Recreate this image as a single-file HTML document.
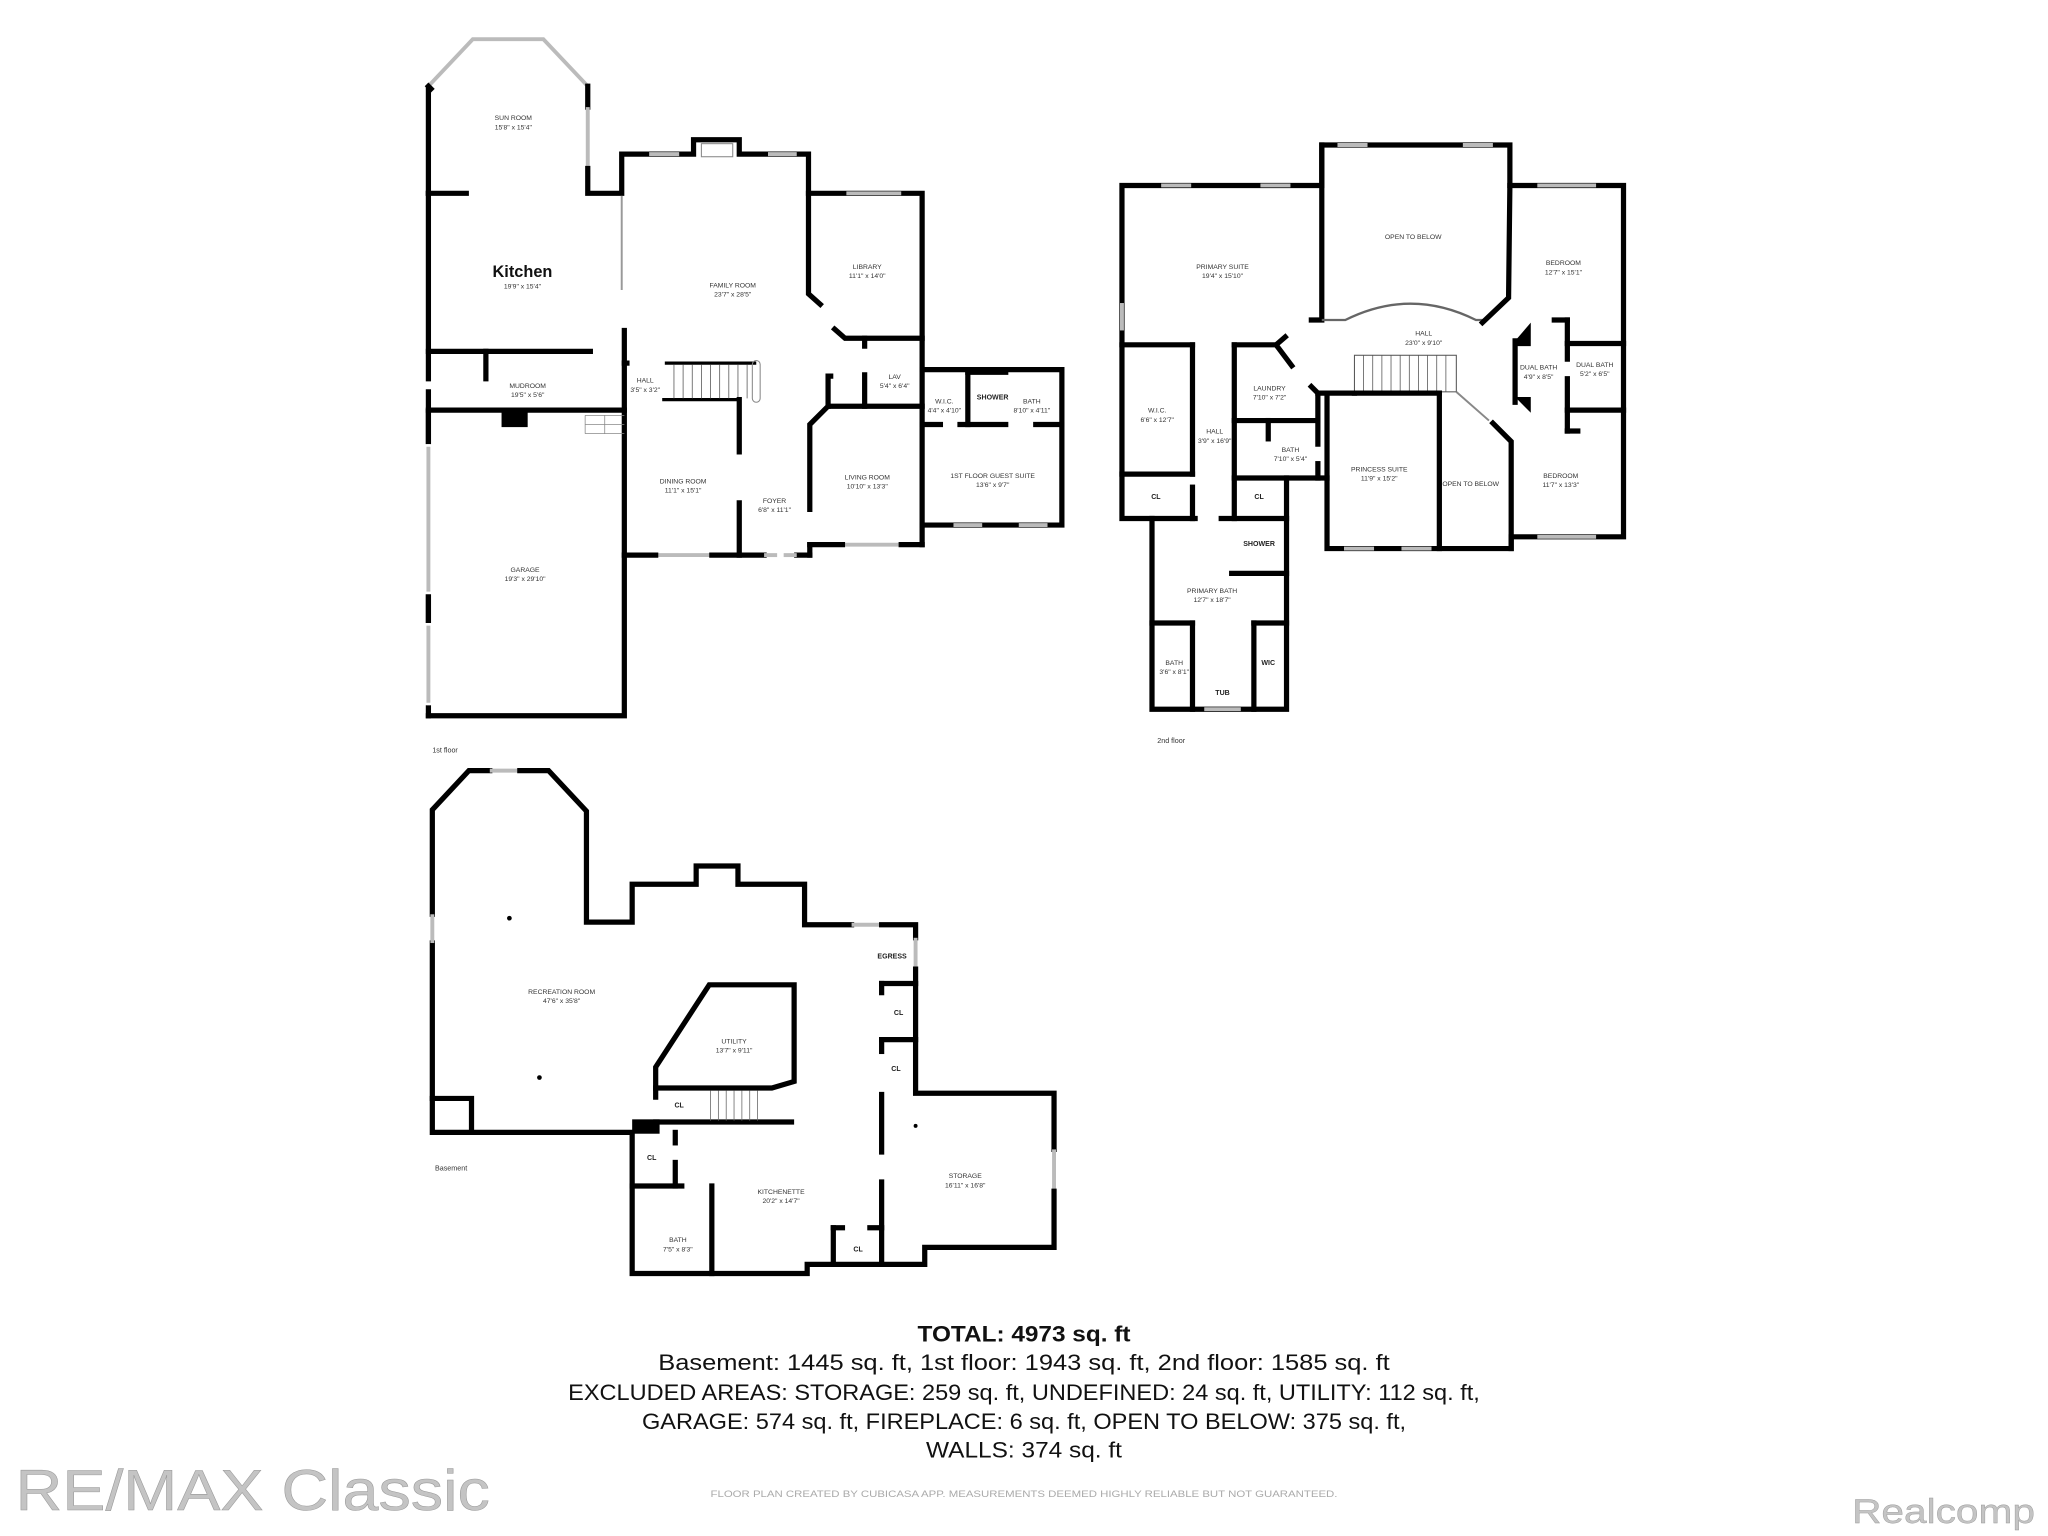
<!DOCTYPE html>
<html><head><meta charset="utf-8"><style>
html,body{margin:0;padding:0;background:#fff;}
svg{display:block;}
.w{fill:none;stroke:#000;stroke-width:4;stroke-linecap:square;stroke-linejoin:miter;}
.t{stroke:#000;stroke-width:2.5;fill:none;}
.win{stroke:#bbb;stroke-width:3;fill:none;}
.lb{font-family:"Liberation Sans",sans-serif;font-size:5.2px;fill:#333;text-anchor:middle;}
.lbb{font-family:"Liberation Sans",sans-serif;font-size:5.4px;fill:#222;text-anchor:middle;font-weight:bold;}
.fl{font-family:"Liberation Sans",sans-serif;font-size:5.5px;fill:#333;}
.tot{font-family:"Liberation Sans",sans-serif;fill:#111;text-anchor:middle;}
</style></head><body>
<svg width="2048" height="1536" viewBox="0 0 1568 1176" preserveAspectRatio="none" xmlns="http://www.w3.org/2000/svg">
<!-- ===== 1st floor ===== -->
<g>
<!-- sun room -->
<polyline class="win" points="328,66 362,30 416,30 450,66"/>
<polyline class="w" points="328,66 330,68"/>
<line class="w" x1="328" y1="68" x2="328" y2="148"/>
<line class="w" x1="450" y1="66" x2="450" y2="82"/>
<line class="win" x1="450" y1="82" x2="450" y2="129"/>
<polyline class="w" points="450,129 450,148 476,148 476,118 531,118 531,107 566,107 566,118 619,118 619,148 706,148 706,283 813,283 813,402 706,402 706,417"/>
<rect x="537" y="110" width="24" height="10" fill="#fff" stroke="#888" stroke-width="0.8"/>
<line class="win" x1="497" y1="118" x2="520" y2="118"/>
<line class="win" x1="588" y1="118" x2="610" y2="118"/>
<line class="win" x1="648" y1="148" x2="690" y2="148"/>
<line class="win" x1="730" y1="402" x2="752" y2="402"/>
<line class="win" x1="780" y1="402" x2="802" y2="402"/>
<line class="win" x1="645" y1="417" x2="690" y2="417"/>
<line class="win" x1="502" y1="425" x2="545" y2="425"/>
<line class="win" x1="371" y1="548" x2="394" y2="548"/>
<line class="win" x1="430" y1="548" x2="452" y2="548"/>
<!-- kitchen / mudroom / garage -->
<line class="w" x1="328" y1="148" x2="357" y2="148"/>
<line class="w" x1="328" y1="148" x2="328" y2="290"/>
<line class="w" x1="328" y1="300" x2="328" y2="548"/>
<line class="win" x1="328" y1="340" x2="328" y2="455"/>
<line class="win" x1="328" y1="475" x2="328" y2="540"/>
<line class="w" x1="328" y1="315" x2="328" y2="338"/>
<line class="w" x1="328" y1="455" x2="328" y2="475"/>
<line x1="328" y1="340" x2="328" y2="455" stroke="#fff" stroke-width="5"/>
<line class="win" x1="328" y1="342" x2="328" y2="453"/>
<line x1="328" y1="477" x2="328" y2="540" stroke="#fff" stroke-width="5"/>
<line class="win" x1="328" y1="479" x2="328" y2="538"/>
<polyline class="w" points="328,548 478,548 478,253"/>
<line class="w" x1="328" y1="269" x2="452" y2="269"/>
<line class="w" x1="372" y1="269" x2="372" y2="290"/>
<line class="w" x1="328" y1="314" x2="478" y2="314"/>
<rect x="384" y="315" width="20" height="12" fill="#000"/>
<line x1="476" y1="150" x2="476" y2="222" stroke="#999" stroke-width="1.5"/>
<!-- stairs/hall -->
<line class="w" x1="478" y1="278" x2="480" y2="278"/>
<line class="t" x1="509" y1="278" x2="579" y2="278"/>
<line class="t" x1="507" y1="306" x2="566" y2="306"/>
<g stroke="#555" stroke-width="0.6">
<line x1="516" y1="279" x2="516" y2="305"/><line x1="523" y1="279" x2="523" y2="305"/><line x1="530" y1="279" x2="530" y2="305"/><line x1="537" y1="279" x2="537" y2="305"/><line x1="544" y1="279" x2="544" y2="305"/><line x1="551" y1="279" x2="551" y2="305"/><line x1="558" y1="279" x2="558" y2="305"/><line x1="565" y1="279" x2="565" y2="305"/><line x1="572" y1="279" x2="572" y2="305"/>
</g>
<rect x="576" y="276" width="6" height="32" rx="3" fill="none" stroke="#888" stroke-width="0.8"/>
<g stroke="#888" stroke-width="0.6"><line x1="448" y1="318" x2="478" y2="318"/><line x1="448" y1="325" x2="478" y2="325"/><line x1="448" y1="332" x2="478" y2="332"/><line x1="448" y1="318" x2="448" y2="332"/><line x1="463" y1="318" x2="463" y2="332"/></g>
<!-- dining/foyer -->
<polyline class="w" points="566,306 566,346"/>
<line class="w" x1="566" y1="385" x2="566" y2="425"/>
<line class="w" x1="478" y1="425" x2="502" y2="425"/>
<line class="w" x1="545" y1="425" x2="585" y2="425"/>
<line class="w" x1="610" y1="425" x2="620" y2="425"/>
<line class="win" x1="585" y1="425" x2="595" y2="425"/>
<line class="win" x1="600" y1="425" x2="610" y2="425"/>
<line class="w" x1="620" y1="425" x2="620" y2="417"/>
<line class="w" x1="620" y1="417" x2="645" y2="417"/>
<line class="w" x1="690" y1="417" x2="706" y2="417"/>
<!-- living / lav / library -->
<polyline class="w" points="620,390 620,325 634,311 706,311"/>
<polyline class="w" points="619,148 619,225 628,233"/>
<polyline class="w" points="639,252 647,259 706,259"/>
<line class="w" x1="662" y1="259" x2="662" y2="265"/>
<line class="w" x1="662" y1="287" x2="662" y2="311"/>
<polyline class="w" points="634,311 634,288 636,288"/>
<line class="w" x1="706" y1="283" x2="706" y2="402"/>
<line class="w" x1="741" y1="283" x2="741" y2="325"/>
<line class="w" x1="706" y1="325" x2="720" y2="325"/>
<line class="w" x1="735" y1="325" x2="770" y2="325"/>
<line class="w" x1="793" y1="325" x2="813" y2="325"/>
<line class="w" x1="741" y1="285" x2="770" y2="285"/>
<text class="lbb" x="400" y="212" style="font-size:12.5px;fill:#111">Kitchen</text>
<text class="lb" x="400" y="221">19'9" x 15'4"</text>
<text class="lb" x="393" y="92">SUN ROOM</text><text class="lb" x="393" y="99">15'8" x 15'4"</text>
<text class="lb" x="561" y="220">FAMILY ROOM</text><text class="lb" x="561" y="227">23'7" x 28'5"</text>
<text class="lb" x="664" y="206">LIBRARY</text><text class="lb" x="664" y="213">11'1" x 14'0"</text>
<text class="lb" x="404" y="297">MUDROOM</text><text class="lb" x="404" y="304">19'5" x 5'6"</text>
<text class="lb" x="494" y="293">HALL</text><text class="lb" x="494" y="300">3'5" x 3'2"</text>
<text class="lb" x="685" y="290">LAV</text><text class="lb" x="685" y="297">5'4" x 6'4"</text>
<text class="lb" x="723" y="309">W.I.C.</text><text class="lb" x="723" y="316">4'4" x 4'10"</text>
<text class="lbb" x="760" y="306">SHOWER</text>
<text class="lb" x="790" y="309">BATH</text><text class="lb" x="790" y="316">8'10" x 4'11"</text>
<text class="lb" x="523" y="370">DINING ROOM</text><text class="lb" x="523" y="377">11'1" x 15'1"</text>
<text class="lb" x="593" y="385">FOYER</text><text class="lb" x="593" y="392">6'8" x 11'1"</text>
<text class="lb" x="664" y="367">LIVING ROOM</text><text class="lb" x="664" y="374">10'10" x 13'3"</text>
<text class="lb" x="760" y="366">1ST FLOOR GUEST SUITE</text><text class="lb" x="760" y="373">13'6" x 9'7"</text>
<text class="lb" x="402" y="438">GARAGE</text><text class="lb" x="402" y="445">19'3" x 29'10"</text>
<text class="fl" x="331" y="576">1st floor</text>
</g>

<!-- ===== 2nd floor ===== -->
<g>
<polyline class="w" points="859,397 859,142 1012,142 1012,111 1156,111 1156,142 1243,142 1243,411 1157,411 1157,420 1016,420 1016,366 985,366 985,543 882,543 882,397 859,397"/>
<line class="win" x1="889" y1="142" x2="912" y2="142"/>
<line class="win" x1="965" y1="142" x2="988" y2="142"/>
<line class="win" x1="1024" y1="111" x2="1047" y2="111"/>
<line class="win" x1="1120" y1="111" x2="1143" y2="111"/>
<line class="win" x1="1177" y1="142" x2="1222" y2="142"/>
<line class="win" x1="1177" y1="411" x2="1222" y2="411"/>
<line class="win" x1="1029" y1="420" x2="1052" y2="420"/>
<line class="win" x1="1073" y1="420" x2="1096" y2="420"/>
<line class="win" x1="922" y1="543" x2="950" y2="543"/>
<line class="win" x1="859" y1="232" x2="859" y2="253"/>
<!-- left internal -->
<line class="w" x1="859" y1="264" x2="913" y2="264"/>
<line class="w" x1="913" y1="264" x2="913" y2="363"/>
<line class="w" x1="859" y1="363" x2="913" y2="363"/>
<line class="w" x1="913" y1="373" x2="913" y2="397"/>
<line class="w" x1="882" y1="397" x2="915" y2="397"/>
<line class="w" x1="935" y1="397" x2="985" y2="397"/>
<line class="w" x1="945" y1="264" x2="945" y2="397"/>
<polyline class="w" points="945,264 977,264 989,280"/>
<polyline class="w" points="1004,296 1009,301 1009,340"/>
<line class="w" x1="1009" y1="355" x2="1009" y2="366"/>
<line class="w" x1="945" y1="322" x2="1009" y2="322"/>
<line class="w" x1="971" y1="322" x2="971" y2="336"/>
<line class="w" x1="945" y1="366" x2="985" y2="366"/>
<polyline class="w" points="1012,111 1012,245 1004,245"/>
<line class="w" x1="977" y1="264" x2="984" y2="258"/>
<line class="w" x1="1009" y1="301" x2="1037" y2="301"/>
<!-- hall rail arc -->
<path d="M1012,245 L1030,245 Q1080,220 1130,245 L1135,245" fill="none" stroke="#666" stroke-width="1.8"/>
<polyline class="w" points="1156,142 1155,228 1135,247"/>
<!-- stairs -->
<rect x="1037" y="272" width="78" height="28" fill="none" stroke="#555" stroke-width="0.8"/>
<g stroke="#555" stroke-width="0.6"><line x1="1044" y1="272" x2="1044" y2="300"/><line x1="1051" y1="272" x2="1051" y2="300"/><line x1="1058" y1="272" x2="1058" y2="300"/><line x1="1065" y1="272" x2="1065" y2="300"/><line x1="1072" y1="272" x2="1072" y2="300"/><line x1="1079" y1="272" x2="1079" y2="300"/><line x1="1086" y1="272" x2="1086" y2="300"/><line x1="1093" y1="272" x2="1093" y2="300"/><line x1="1100" y1="272" x2="1100" y2="300"/><line x1="1107" y1="272" x2="1107" y2="300"/></g>
<line class="w" x1="1037" y1="301" x2="1102" y2="301"/>
<line class="w" x1="1102" y1="301" x2="1102" y2="420"/>
<line x1="1115" y1="300" x2="1140" y2="322" stroke="#888" stroke-width="1.5"/>
<polyline class="w" points="1143,324 1157,338 1157,420"/>
<line class="w" x1="1016" y1="366" x2="1016" y2="301"/>
<!-- princess suite internal separation -->
<!-- dual baths -->
<line class="w" x1="1160" y1="261" x2="1160" y2="308"/>
<polygon points="1160,261 1172,247 1172,265 1160,265" fill="#000"/>
<polygon points="1160,304 1172,304 1172,316" fill="#000"/>
<line class="w" x1="1200" y1="245" x2="1200" y2="275"/>
<line class="w" x1="1200" y1="290" x2="1200" y2="330"/>
<line class="w" x1="1200" y1="263" x2="1243" y2="263"/>
<line class="w" x1="1200" y1="314" x2="1243" y2="314"/>
<line class="w" x1="1200" y1="330" x2="1208" y2="330"/>
<line class="w" x1="1190" y1="245" x2="1200" y2="245"/>
<!-- primary bath -->
<line class="w" x1="943" y1="439" x2="985" y2="439"/>
<line class="w" x1="882" y1="477" x2="913" y2="477"/>
<line class="w" x1="913" y1="477" x2="913" y2="543"/>
<line class="w" x1="960" y1="477" x2="985" y2="477"/>
<line class="w" x1="960" y1="477" x2="960" y2="543"/>
<text class="lb" x="1082" y="183">OPEN TO BELOW</text>
<text class="lb" x="936" y="206">PRIMARY SUITE</text><text class="lb" x="936" y="213">19'4" x 15'10"</text>
<text class="lb" x="1197" y="203">BEDROOM</text><text class="lb" x="1197" y="210">12'7" x 15'1"</text>
<text class="lb" x="1090" y="257">HALL</text><text class="lb" x="1090" y="264">23'0" x 9'10"</text>
<text class="lb" x="972" y="299">LAUNDRY</text><text class="lb" x="972" y="306">7'10" x 7'2"</text>
<text class="lb" x="1178" y="283">DUAL BATH</text><text class="lb" x="1178" y="290">4'9" x 8'5"</text>
<text class="lb" x="1221" y="281">DUAL BATH</text><text class="lb" x="1221" y="288">5'2" x 6'5"</text>
<text class="lb" x="886" y="316">W.I.C.</text><text class="lb" x="886" y="323">6'6" x 12'7"</text>
<text class="lb" x="930" y="332">HALL</text><text class="lb" x="930" y="339">3'9" x 16'9"</text>
<text class="lb" x="988" y="346">BATH</text><text class="lb" x="988" y="353">7'10" x 5'4"</text>
<text class="lb" x="1056" y="361">PRINCESS SUITE</text><text class="lb" x="1056" y="368">11'9" x 15'2"</text>
<text class="lb" x="1126" y="372">OPEN TO BELOW</text>
<text class="lb" x="1195" y="366">BEDROOM</text><text class="lb" x="1195" y="373">11'7" x 13'3"</text>
<text class="lbb" x="885" y="382">CL</text><text class="lbb" x="964" y="382">CL</text>
<text class="lbb" x="964" y="418">SHOWER</text>
<text class="lb" x="928" y="454">PRIMARY BATH</text><text class="lb" x="928" y="461">12'7" x 18'7"</text>
<text class="lb" x="899" y="509">BATH</text><text class="lb" x="899" y="516">3'6" x 8'1"</text>
<text class="lbb" x="971" y="509">WIC</text>
<text class="lbb" x="936" y="532">TUB</text>
<text class="fl" x="886" y="569">2nd floor</text>
</g>

<!-- ===== Basement ===== -->
<g>
<polyline class="w" points="331,700 331,620 359,590 375,590"/>
<line class="win" x1="375" y1="590" x2="398" y2="590"/>
<polyline class="w" points="398,590 420,590 449,621 449,706 484,706 484,677 533,677 533,663 565,663 565,677 616,677 616,708 652,708"/>
<line class="win" x1="652" y1="708" x2="675" y2="708"/>
<polyline class="w" points="675,708 701,708 701,718"/>
<line class="win" x1="701" y1="718" x2="701" y2="742"/>
<polyline class="w" points="701,742 701,837 807,837 807,880"/>
<line class="win" x1="807" y1="880" x2="807" y2="912"/>
<polyline class="w" points="807,912 807,955 708,955 708,968 618,968 618,975 484,975 484,867 331,867 331,722"/>
<line class="win" x1="331" y1="700" x2="331" y2="722"/>
<polygon class="w" points="543,754 608,754 608,828 591,833 502,833 502,817"/>
<line class="w" x1="502" y1="833" x2="502" y2="840"/>
<line class="w" x1="502" y1="859" x2="606" y2="859"/>
<g stroke="#666" stroke-width="0.6"><line x1="544" y1="835" x2="544" y2="858"/><line x1="550" y1="835" x2="550" y2="858"/><line x1="556" y1="835" x2="556" y2="858"/><line x1="562" y1="835" x2="562" y2="858"/><line x1="568" y1="835" x2="568" y2="858"/><line x1="574" y1="835" x2="574" y2="858"/><line x1="580" y1="835" x2="580" y2="858"/></g>
<rect x="484" y="857" width="21" height="11" fill="#000"/>
<line class="w" x1="517" y1="867" x2="517" y2="875"/>
<line class="w" x1="517" y1="890" x2="517" y2="908"/>
<line class="w" x1="484" y1="908" x2="522" y2="908"/>
<line class="w" x1="545" y1="908" x2="545" y2="975"/>
<line class="w" x1="675" y1="753" x2="675" y2="760"/>
<line class="w" x1="675" y1="796" x2="675" y2="805"/>
<line class="w" x1="675" y1="838" x2="675" y2="882"/>
<line class="w" x1="675" y1="905" x2="675" y2="968"/>
<line class="w" x1="675" y1="753" x2="701" y2="753"/>
<line class="w" x1="675" y1="796" x2="701" y2="796"/>
<line class="w" x1="638" y1="940" x2="638" y2="968"/>
<line class="w" x1="638" y1="940" x2="645" y2="940"/>
<line class="w" x1="666" y1="940" x2="675" y2="940"/>
<polyline class="w" points="331,841 361,841 361,867"/>
<circle cx="390" cy="703" r="1.8" fill="#000"/><circle cx="413" cy="825" r="1.8" fill="#000"/><circle cx="701" cy="862" r="1.5" fill="#000"/>
<text class="lb" x="430" y="761">RECREATION ROOM</text><text class="lb" x="430" y="768">47'6" x 35'8"</text>
<text class="lb" x="562" y="799">UTILITY</text><text class="lb" x="562" y="806">13'7" x 9'11"</text>
<text class="lbb" x="683" y="734">EGRESS</text>
<text class="lbb" x="688" y="777">CL</text><text class="lbb" x="686" y="820">CL</text>
<text class="lbb" x="520" y="848">CL</text><text class="lbb" x="499" y="888">CL</text>
<text class="lb" x="598" y="914">KITCHENETTE</text><text class="lb" x="598" y="921">20'2" x 14'7"</text>
<text class="lb" x="739" y="902">STORAGE</text><text class="lb" x="739" y="909">16'11" x 16'8"</text>
<text class="lb" x="519" y="951">BATH</text><text class="lb" x="519" y="958">7'5" x 8'3"</text>
<text class="lbb" x="657" y="958">CL</text>
<text class="fl" x="333" y="896">Basement</text>
</g>

<!-- ===== Totals ===== -->
<text class="tot" x="784" y="1027" style="font-size:17px;font-weight:bold" textLength="163" lengthAdjust="spacingAndGlyphs">TOTAL: 4973 sq. ft</text>
<text class="tot" x="784" y="1049" style="font-size:17px" textLength="560" lengthAdjust="spacingAndGlyphs">Basement: 1445 sq. ft, 1st floor: 1943 sq. ft, 2nd floor: 1585 sq. ft</text>
<text class="tot" x="784" y="1072" style="font-size:17px" textLength="698" lengthAdjust="spacingAndGlyphs">EXCLUDED AREAS: STORAGE: 259 sq. ft, UNDEFINED: 24 sq. ft, UTILITY: 112 sq. ft,</text>
<text class="tot" x="784" y="1094" style="font-size:17px" textLength="585" lengthAdjust="spacingAndGlyphs">GARAGE: 574 sq. ft, FIREPLACE: 6 sq. ft, OPEN TO BELOW: 375 sq. ft,</text>
<text class="tot" x="784" y="1116" style="font-size:17px" textLength="150" lengthAdjust="spacingAndGlyphs">WALLS: 374 sq. ft</text>
<text x="784" y="1146" style="font-family:'Liberation Sans',sans-serif;font-size:7px;fill:#aaa;text-anchor:middle" textLength="480" lengthAdjust="spacingAndGlyphs">FLOOR PLAN CREATED BY CUBICASA APP. MEASUREMENTS DEEMED HIGHLY RELIABLE BUT NOT GUARANTEED.</text>
<text x="12" y="1156" style="font-family:'Liberation Sans',sans-serif;font-size:44px;fill:#c4c4c4;stroke:#999;stroke-width:0.4" textLength="363" lengthAdjust="spacingAndGlyphs">RE/MAX Classic</text>
<text x="1418" y="1166" style="font-family:'Liberation Sans',sans-serif;font-size:26px;fill:#c4c4c4;stroke:#999;stroke-width:0.3" textLength="140" lengthAdjust="spacingAndGlyphs">Realcomp</text>
</svg>
</body></html>
